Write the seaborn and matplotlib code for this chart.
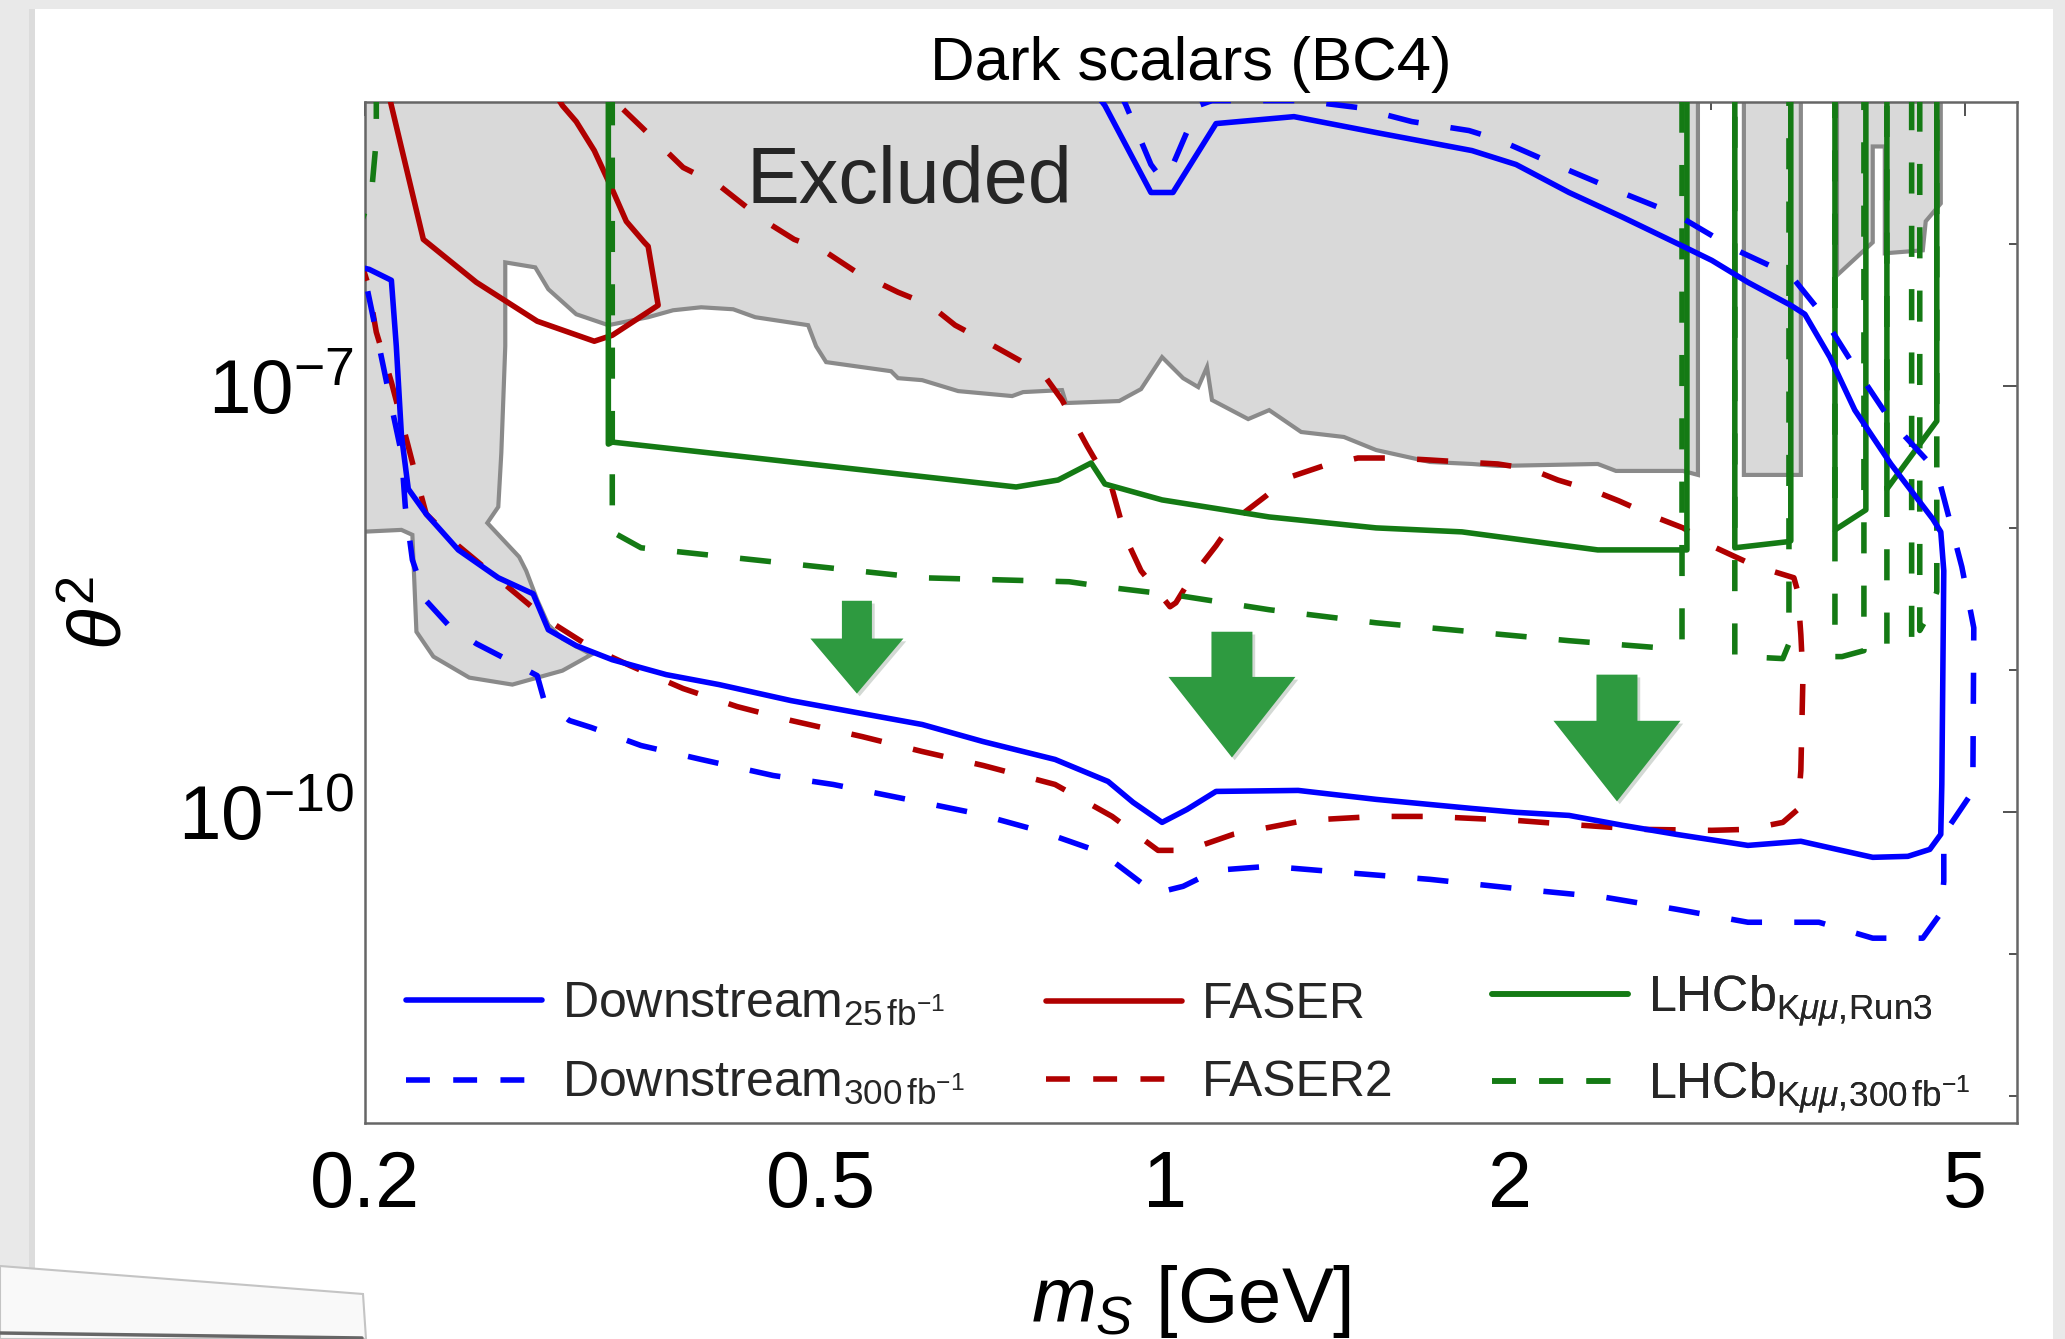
import numpy as np
import matplotlib
matplotlib.use("Agg")
import matplotlib.pyplot as plt
import seaborn as sns
from matplotlib.patches import Rectangle, Polygon
from matplotlib.lines import Line2D
import matplotlib.patheffects as pe
from matplotlib.ticker import FixedLocator, FixedFormatter, NullFormatter

# ---------------- data (mass in GeV, log10 of theta^2) ----------------
excl_m = [0.19, 0.19, 0.2152, 0.2200, 0.2218, 0.2295, 0.2467, 0.2690, 0.2975, 0.3153, 0.2975, 0.2892,
          0.2828, 0.2766, 0.2727, 0.2558, 0.2615, 0.2631, 0.2652, 0.2652, 0.2817, 0.2892, 0.3059, 0.3263,
          0.3535, 0.3717, 0.3933, 0.4195, 0.4385, 0.4877, 0.4956, 0.5057, 0.5763, 0.5844, 0.6135, 0.6596,
          0.7352, 0.7516, 0.8128, 0.8194, 0.9117, 0.9528, 0.994, 1.037, 1.069, 1.088, 1.099, 1.182, 1.233,
          1.315, 1.433, 1.529, 1.704, 1.854, 1.953, 2.388, 2.477, 2.835, 2.921, 2.921, 3.204, 3.204, 3.593,
          3.593, 3.864, 3.864, 4.152, 4.152, 4.254, 4.254, 4.592, 4.619, 4.761, 4.761]
excl_lt = [-4.0, -8.033, -8.012, -8.047, -8.729, -8.904, -9.052, -9.101, -9.003, -8.890, -8.778, -8.680,
           -8.504, -8.300, -8.202, -7.963, -7.850, -7.471, -6.719, -6.129, -6.164, -6.318, -6.494, -6.571,
           -6.515, -6.466, -6.445, -6.459, -6.515, -6.571, -6.719, -6.831, -6.895, -6.944, -6.958, -7.035,
           -7.070, -7.042, -7.028, -7.119, -7.105, -7.021, -6.796, -6.944, -7.007, -6.866, -7.098, -7.232,
           -7.169, -7.323, -7.358, -7.450, -7.534, -7.548, -7.562, -7.548, -7.597, -7.597, -7.625, -4.0,
           -4.0, -7.625, -7.625, -4.0, -4.0, -6.220, -5.988, -5.313, -5.313, -6.065, -6.044, -5.840, -5.714, -4.0]

ds25_m = [0.195, 0.2017, 0.2109, 0.2130, 0.2152, 0.2182, 0.2262, 0.2413, 0.2615, 0.2805, 0.2892, 0.3059,
          0.3289, 0.3666, 0.4077, 0.4714, 0.5437, 0.6135, 0.6934, 0.8015, 0.8917, 0.9377, 0.994, 1.045,
          1.108, 1.307, 1.529, 1.854, 2.026, 2.254, 2.512, 2.795, 3.230, 3.593, 3.864, 4.152, 4.456, 4.657,
          4.761, 4.771, 4.790, 4.761, 4.685, 4.306, 4.005, 3.809, 3.622, 3.521, 3.230, 3.004, 2.835, 2.512,
          2.254, 2.026, 1.854, 1.529, 1.296, 1.108, 1.016, 0.972, 0.886, 0.863]
ds25_lt = [-6.15, -6.178, -6.255, -6.719, -7.344, -7.724, -7.900, -8.153, -8.349, -8.462, -8.715, -8.827,
           -8.926, -9.031, -9.101, -9.214, -9.305, -9.382, -9.502, -9.628, -9.783, -9.930, -10.071, -9.980,
           -9.853, -9.846, -9.909, -9.973, -10.000, -10.022, -10.092, -10.155, -10.233, -10.204, -10.261,
           -10.317, -10.310, -10.261, -10.155, -9.804, -8.300, -8.026, -7.935, -7.548, -7.169, -6.796,
           -6.494, -6.431, -6.269, -6.115, -6.016, -5.812, -5.637, -5.440, -5.342, -5.215, -5.103, -5.152,
           -5.637, -5.637, -5.025, -4.90]

ds300_m = [0.2011, 0.2062, 0.2113, 0.2152, 0.2169, 0.2200, 0.2262, 0.2364, 0.2502, 0.2652, 0.2828, 0.2868,
           0.3017, 0.3153, 0.3485, 0.3933, 0.4546, 0.5129, 0.6135, 0.6838, 0.7793, 0.8793, 0.980, 1.037,
           1.108, 1.233, 1.425, 1.704, 2.096, 2.422, 2.795, 3.230, 3.726, 4.152, 4.592, 4.761, 4.790, 4.790,
           4.928, 5.078, 5.088, 4.967, 4.723, 4.306, 4.005, 3.726, 3.521, 3.159, 2.795, 2.492, 2.191, 1.953,
           1.843, 1.643, 1.474, 1.317, 1.099, 1.069, 1.016, 0.994, 0.972, 0.9246, 0.913]
ds300_lt = [-6.332, -6.754, -7.169, -7.471, -7.850, -8.223, -8.511, -8.680, -8.813, -8.918, -9.038, -9.214,
            -9.354, -9.403, -9.530, -9.628, -9.741, -9.804, -9.930, -10.008, -10.134, -10.282, -10.570,
            -10.521, -10.408, -10.380, -10.422, -10.472, -10.549, -10.598, -10.682, -10.774, -10.774,
            -10.886, -10.886, -10.710, -10.486, -10.155, -10.008, -9.853, -8.701, -8.272, -7.597, -7.246,
            -6.866, -6.466, -6.220, -6.044, -5.791, -5.630, -5.440, -5.264, -5.201, -5.138, -5.039, -4.99,
            -4.99, -5.025, -5.440, -5.545, -5.440, -5.025, -4.93]

faser_m = [0.2096, 0.2109, 0.2249, 0.2502, 0.2828, 0.3172, 0.3289, 0.3607, 0.3535, 0.3508, 0.3383, 0.3289,
           0.3172, 0.3059, 0.2975, 0.2926]
faser_lt = [-4.93, -5.025, -5.967, -6.269, -6.543, -6.684, -6.642, -6.431, -6.016, -5.988, -5.840, -5.616,
            -5.342, -5.138, -5.025, -4.93]

faser2_m = [0.197, 0.2011, 0.2046, 0.2109, 0.2169, 0.2218, 0.2262, 0.2413, 0.2652, 0.2892, 0.2932, 0.3153,
            0.3410, 0.3793, 0.4229, 0.4714, 0.5437, 0.6135, 0.6934, 0.8015, 0.8990, 0.986, 1.045, 1.147,
            1.325, 1.529, 1.704, 1.854, 2.026, 2.254, 2.604, 3.004, 3.230, 3.465, 3.571, 3.593, 3.608, 3.593,
            3.571, 3.543, 3.276, 3.028, 2.835, 2.679, 2.492, 2.370, 2.204, 2.084, 1.953, 1.817, 1.704, 1.585,
            1.474, 1.374, 1.278, 1.225, 1.147, 1.108, 1.054, 1.022, 1.010, 0.986, 0.9528, 0.9246, 0.8990,
            0.8549, 0.8128, 0.7840, 0.7456, 0.6990, 0.6555, 0.6234, 0.5844, 0.5361, 0.5028, 0.4742, 0.4446,
            0.4077, 0.3793, 0.3485, 0.3335, 0.3256]
faser2_lt = [-6.05, -6.276, -6.620, -6.972, -7.344, -7.647, -7.900, -8.124, -8.398, -8.651, -8.680, -8.841,
             -8.968, -9.129, -9.256, -9.354, -9.467, -9.572, -9.670, -9.804, -10.029, -10.268, -10.268,
             -10.155, -10.057, -10.029, -10.029, -10.043, -10.057, -10.085, -10.120, -10.127, -10.120,
             -10.071, -9.980, -9.706, -9.052, -8.750, -8.448, -8.349, -8.265, -8.138, -7.998, -7.921, -7.808,
             -7.738, -7.661, -7.583, -7.548, -7.534, -7.520, -7.506, -7.506, -7.562, -7.647, -7.773, -7.949,
             -8.124, -8.349, -8.525, -8.553, -8.448, -8.300, -8.075, -7.724, -7.422, -7.098, -6.923, -6.817,
             -6.691, -6.571, -6.431, -6.339, -6.192, -6.044, -5.967, -5.826, -5.587, -5.461, -5.173, -5.025,
             -4.93]

run3_m = [0.3263, 0.3263, 0.3289, 0.7411, 0.8064, 0.8619, 0.886, 0.994, 1.233, 1.529, 1.817, 2.388, 2.857,
          2.857, 3.146, 3.146, 3.493, 3.521, 3.521, 3.848, 3.848, 4.095, 4.095, 4.272, 4.272, 4.723, 4.723]
run3_lt = [-4.9, -7.408, -7.394, -7.710, -7.661, -7.541, -7.689, -7.801, -7.921, -7.998, -8.026, -8.153,
           -8.153, -4.9, -4.9, -8.138, -8.096, -8.089, -4.9, -4.9, -8.012, -7.871, -4.9, -4.9, -7.724,
           -7.246, -4.9]

lhcb300_m = [0.2046, 0.2046, 0.2029, 0.2017, 0.197, 0.19, 0.3289, 0.3289, 0.3485, 0.6135, 0.8245, 0.886,
             1.031, 1.233, 1.529, 1.854, 2.254, 2.695, 2.829, 2.829, 3.146, 3.146, 3.204, 3.465, 3.508,
             3.508, 3.848, 3.848, 3.903, 4.079, 4.079, 4.272, 4.272, 4.446, 4.49, 4.49, 4.564, 4.564, 4.638,
             4.723, 4.723]
lhcb300_lt = [-4.9, -5.264, -5.588, -5.700, -5.91, -4.9, -4.9, -8.026, -8.138, -8.349, -8.377, -8.413,
              -8.476, -8.574, -8.666, -8.729, -8.792, -8.841, -8.799, -4.9, -4.9, -8.890, -8.904, -8.918,
              -8.813, -4.9, -4.9, -8.904, -8.904, -8.862, -4.9, -4.9, -8.827, -8.827, -8.78, -4.9, -4.9,
              -8.72, -8.623, -8.448, -4.9]

arrow_m = [0.538, 1.144, 2.482]
arrow_top_lt = [-8.511, -8.729, -9.031]
arrow_tip_lt = [-9.164, -9.614, -9.923]

x_major = [0.2, 0.5, 1, 2, 5]
x_major_labels = ["0.2", "0.5", "1", "2", "5"]
x_minor = [0.3, 0.4, 0.6, 0.7, 0.8, 0.9, 1.5, 3, 4]
y_major = [1e-10, 1e-7]
y_major_labels = [r"$10^{-10}$", r"$10^{-7}$"]
y_minor = [1e-12, 1e-11, 1e-9, 1e-8, 1e-6]

legend_cols = [
    [("Downstream$_{\\mathrm{25\\,fb^{-1}}}$", "#0000ff", "-"),
     ("Downstream$_{\\mathrm{300\\,fb^{-1}}}$", "#0000ff", "--")],
    [("FASER", "#b00000", "-"), ("FASER2", "#b00000", "--")],
    [("LHCb$_{\\mathrm{K}\\mu\\mu,\\!\\mathrm{Run3}}$", "#147a14", "-"),
     ("LHCb$_{\\mathrm{K}\\mu\\mu,\\!\\mathrm{300\\,fb^{-1}}}$", "#147a14", "--")],
]

# ---------------- style ----------------
sns.set_theme(style="white")
plt.rcParams["font.family"] = ["Liberation Sans", "DejaVu Sans"]
plt.rcParams["mathtext.fontset"] = "custom"
plt.rcParams["mathtext.rm"] = "Liberation Sans"
plt.rcParams["mathtext.it"] = "Liberation Sans:italic"
plt.rcParams["mathtext.bf"] = "Liberation Sans:bold"

W, H = 2065, 1339
BLUE, RED, GREEN = "#0000ff", "#b00000", "#147a14"
LW = 4.0
DASH = (0, (5.6, 5.8))
LEG_DASH = (0, (4.3, 4.2))

fig = plt.figure(figsize=(W / 100, H / 100), dpi=100)
fig.patch.set_facecolor("#e9e9e9")

def fx(p):
    return p / W

def fy(p):
    return 1 - p / H

# page card and decorations
fig.patches.append(Rectangle((fx(29), 0), fx(8), fy(9), transform=fig.transFigure,
                             facecolor="#dcdcdc", edgecolor="none", zorder=-6))
fig.patches.append(Rectangle((fx(35), 0), fx(2053) - fx(35), fy(9), transform=fig.transFigure,
                             facecolor="white", edgecolor="none", zorder=-5))
fig.patches.append(Polygon([(fx(0), fy(1266)), (fx(363), fy(1294)), (fx(366), fy(1339)), (fx(0), fy(1339))],
                           closed=True, transform=fig.transFigure, facecolor="#f9f9f9",
                           edgecolor="#c4c4c4", lw=1.5, zorder=-4))
fig.lines.append(Line2D([fx(0), fx(362)], [fy(1333), fy(1338)], transform=fig.transFigure,
                        color="#666666", lw=2.5))

ax = fig.add_axes([fx(365), fy(1123), fx(2017) - fx(365), (1123 - 102) / H])
ax.set_xscale("log")
ax.set_yscale("log")
ax.set_xlim(0.2, 5.55)
ax.set_ylim(6.5e-13, 1e-5)
ax.set_facecolor("white")

def pw(v):
    return 10.0 ** np.asarray(v)

# excluded region
ax.fill(excl_m, pw(excl_lt), facecolor="#d9d9d9", edgecolor="#8a8a8a", linewidth=3.0, zorder=1)

curves = [
    (faser2_m, faser2_lt, RED, DASH),
    (faser_m, faser_lt, RED, "-"),
    (lhcb300_m, lhcb300_lt, GREEN, DASH),
    (run3_m, run3_lt, GREEN, "-"),
    (ds300_m, ds300_lt, BLUE, DASH),
    (ds25_m, ds25_lt, BLUE, "-"),
]
for mm, lt, col, ls in curves:
    sns.lineplot(x=np.asarray(mm), y=pw(lt), sort=False, estimator=None, color=col,
                 linewidth=LW, linestyle=ls, ax=ax, zorder=3)

ax.text(0.4306, 10 ** -5.714, "Excluded", fontsize=57, ha="left", va="baseline", zorder=5)

# arrows
ARROW_GREEN = "#2e9a40"
arrow_sizes = [(39.6, 67, 21.6), (58, 91.4, 29.5), (58, 91.4, 29.5)]
for xm, tl, bl, (hl, hw, tw) in zip(arrow_m, arrow_top_lt, arrow_tip_lt, arrow_sizes):
    ax.annotate("", xy=(xm, 10 ** bl), xytext=(xm, 10 ** tl),
                arrowprops=dict(arrowstyle=f"simple,head_length={hl},head_width={hw},tail_width={tw}",
                                facecolor=ARROW_GREEN, edgecolor="none", mutation_scale=1,
                                shrinkA=0, shrinkB=0,
                                path_effects=[pe.SimplePatchShadow(offset=(2, -2), alpha=0.18), pe.Normal()]),
                zorder=6)

# ticks
ax.xaxis.set_major_locator(FixedLocator(x_major))
ax.xaxis.set_major_formatter(FixedFormatter(x_major_labels))
ax.xaxis.set_minor_locator(FixedLocator(x_minor))
ax.xaxis.set_minor_formatter(NullFormatter())
ax.yaxis.set_major_locator(FixedLocator(y_major))
ax.yaxis.set_major_formatter(FixedFormatter(y_major_labels))
ax.yaxis.set_minor_locator(FixedLocator(y_minor))
ax.yaxis.set_minor_formatter(NullFormatter())
ax.tick_params(which="both", direction="in", top=True, right=True, color="#444444", width=1.3)
ax.tick_params(which="major", length=10)
ax.tick_params(which="minor", length=6)
ax.tick_params(axis="x", which="major", labelsize=57, pad=19, labelcolor="black")
ax.tick_params(axis="y", which="major", labelsize=55, pad=8, labelcolor="black")
for s in ax.spines.values():
    s.set_color("#666666")
    s.set_linewidth(1.8)

ax.set_title("Dark scalars (BC4)", fontsize=44.5, pad=16, color="black")
ax.set_xlabel(r"$m_S$ [GeV]", fontsize=56, labelpad=28, color="black")
ax.set_ylabel(r"$\theta^2$", fontsize=54, labelpad=30, color="black")

# legends (three columns)
leg_x = [406, 1046, 1492]
for x0, entries in zip(leg_x, legend_cols):
    handles = [Line2D([], [], color=c, lw=LW, linestyle=(LEG_DASH if ls == "--" else "-"))
               for _, c, ls in entries]
    labels = [t for t, _, _ in entries]
    leg = ax.legend(handles, labels, loc="center left", bbox_to_anchor=(fx(x0), fy(1044)),
                    bbox_transform=fig.transFigure, frameon=False, fontsize=36,
                    handlelength=2.72, handletextpad=0.4, borderpad=0, borderaxespad=0,
                    labelspacing=0.64)
    ax.add_artist(leg)

fig.savefig("out.png", dpi=100, facecolor=fig.get_facecolor())
